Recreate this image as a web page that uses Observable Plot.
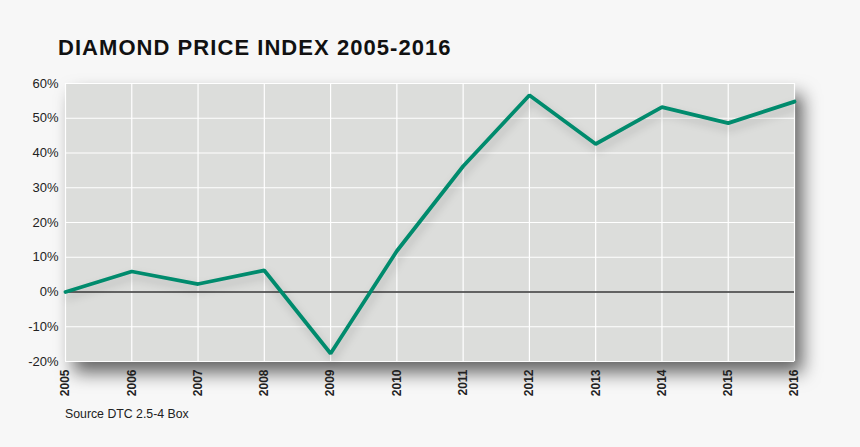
<!DOCTYPE html>
<html>
<head>
<meta charset="utf-8">
<script src="https://cdn.jsdelivr.net/npm/d3@7"></script>
<script src="https://cdn.jsdelivr.net/npm/@observablehq/plot@0.6"></script>
<style>
  html, body { margin: 0; padding: 0; background: #f7f7f7; }
  #wrap { position: relative; width: 860px; height: 447px; overflow: hidden; font-family: "Liberation Sans", Arial, Helvetica, sans-serif; }
  #title { position: absolute; left: 58px; top: 35px; font-size: 22px; font-weight: bold; color: #111; letter-spacing: 1.05px; }
  #source { position: absolute; left: 65px; top: 407px; font-size: 12.3px; color: #222; }
  #chart { position: absolute; left: 0; top: 0; }
</style>
</head>
<body>
<div id="wrap">
  <div id="chart"></div>
  <div id="title">DIAMOND PRICE INDEX 2005-2016</div>
  <div id="source">Source DTC 2.5-4 Box</div>
</div>
<script>
const years = [2005, 2006, 2007, 2008, 2009, 2010, 2011, 2012, 2013, 2014, 2015, 2016];
const index = [0, 5.9, 2.3, 6.2, -17.7, 11.8, 36.2, 56.6, 42.6, 53.2, 48.6, 54.8];
const yTicks = [-20, -10, 0, 10, 20, 30, 40, 50, 60];

const data = years.map((y, i) => ({year: y, value: index[i]}));

const chart = Plot.plot({
  width: 860,
  height: 447,
  marginTop: 83,
  marginBottom: 86,
  marginLeft: 65,
  marginRight: 66,
  style: {background: "transparent", fontFamily: "'Liberation Sans', Arial, sans-serif", fontSize: "13px", color: "#222"},
  x: {domain: [2005, 2016], label: null},
  y: {domain: [-20, 60], label: null},
  marks: [
    Plot.frame({fill: "#dcdddb", stroke: null, className: "bgframe"}),
    Plot.gridX(years, {stroke: "#ffffff", strokeOpacity: 1, strokeWidth: 1.2}),
    Plot.gridY(yTicks, {stroke: "#ffffff", strokeOpacity: 1, strokeWidth: 1.2}),
    Plot.ruleY([0], {stroke: "#333", strokeWidth: 1.3}),
    Plot.line(data, {x: "year", y: "value", stroke: "#008b6d", strokeWidth: 3.8, strokeLinejoin: "miter", className: "mainline"}),
    Plot.axisX({ticks: years, tickFormat: d => String(d), tickRotate: -90, tickSize: 0, tickPadding: 8, fontSize: 12, fontWeight: "bold", fill: "#222"}),
    Plot.axisY({ticks: yTicks, tickFormat: d => d + "%", tickSize: 0, tickPadding: 7, fontSize: 13, fill: "#222"})
  ]
});
document.getElementById("chart").appendChild(chart);
d3.select(chart).selectAll(".bgframe").style("filter", "drop-shadow(8px 11px 9px rgba(0,0,0,0.6))");
d3.select(chart).selectAll(".mainline").style("filter", "drop-shadow(2px 5px 4px rgba(0,0,0,0.18))");
</script>
</body>
</html>
